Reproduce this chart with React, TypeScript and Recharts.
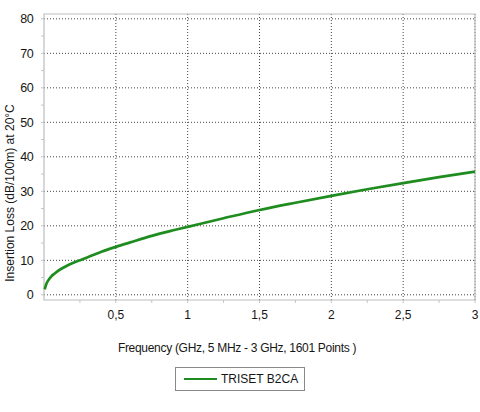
import React from "react";
import {
  LineChart,
  Line,
  XAxis,
  YAxis,
  CartesianGrid,
  ReferenceArea,
} from "recharts";

const frequencies = [0.005, 0.01, 0.02, 0.035, 0.05, 0.075, 0.1, 0.15, 0.2, 0.26, 0.3, 0.4, 0.5, 0.6, 0.75, 0.9, 1, 1.25, 1.5, 1.75, 2, 2.25, 2.5, 2.75, 3];
const lossValues = [1.6, 2.4, 3.5, 4.5, 5.3, 6.2, 7.0, 8.2, 9.2, 10.2, 10.85, 12.5, 13.9, 15.2, 17.1, 18.7, 19.7, 22.2, 24.6, 26.7, 28.7, 30.6, 32.4, 34.1, 35.7];
const xTicks = [0.25, 0.5, 0.75, 1, 1.25, 1.5, 1.75, 2, 2.25, 2.5, 2.75, 3];
const xLabelTicks = [0.5, 1, 1.5, 2, 2.5, 3];
const yTicks = [0, 5, 10, 15, 20, 25, 30, 35, 40, 45, 50, 55, 60, 65, 70, 75, 80];
const yLabelTicks = [0, 10, 20, 30, 40, 50, 60, 70, 80];
const seriesName = "TRISET B2CA";
const xTitle = "Frequency (GHz, 5 MHz - 3 GHz, 1601 Points )";
const yTitle = "Insertion Loss (dB/100m) at 20°C";

const data = frequencies.map((f, i) => ({ f, loss: lossValues[i] }));

const FONT = "'Liberation Sans', Arial, sans-serif";
const GREEN = "#1f8c1f";
const TEXT = "#161616";

const LegendBox = () => (
  <div
    style={{
      position: "absolute",
      left: 175,
      top: 367,
      width: 130,
      height: 24,
      border: "1px solid #888",
      display: "flex",
      alignItems: "center",
      boxSizing: "border-box",
      fontFamily: FONT,
      fontSize: 12,
      color: TEXT,
      whiteSpace: "nowrap",
    }}
  >
    <div style={{ width: 33, height: 2.5, background: GREEN, marginLeft: 8, marginRight: 4 }} />
    <span>{seriesName}</span>
  </div>
);

export default function App() {
  return (
    <div style={{ position: "absolute", left: 0, top: 0, width: 480, height: 412, background: "#fff" }}>
      <LineChart width={480} height={412} data={data} margin={{ top: 14, right: 5, bottom: 82, left: 0 }}>
        <CartesianGrid
          stroke="#444"
          strokeDasharray="1 2"
          strokeWidth={1}
          horizontalValues={yLabelTicks}
          verticalValues={xLabelTicks}
        />
        <ReferenceArea x1={0} x2={3} y1={-1.5} y2={81.4} fill="none" stroke="#bdbdbd" strokeWidth={1.2} ifOverflow="visible" />
        <XAxis
          dataKey="f"
          type="number"
          domain={[0, 3]}
          ticks={xTicks}
          interval={0}
          tickFormatter={(v: number) => (xLabelTicks.includes(v) ? String(v).replace(".", ",") : "")}
          axisLine={false}
          tickLine={{ stroke: "#c4c4c4" }}
          tickSize={3}
          tickMargin={7}
          tick={{ fill: TEXT, fontSize: 12, fontFamily: FONT }}
          height={30}
          label={{
            content: () => (
              <text x={237} y={351.5} textAnchor="middle" fill={TEXT} fontSize={12} fontFamily={FONT} letterSpacing={-0.3}>
                {xTitle}
              </text>
            ),
          }}
        />
        <YAxis
          type="number"
          domain={[-1.5, 81.4]}
          ticks={yTicks}
          interval={0}
          tickFormatter={(v: number) => (yLabelTicks.includes(v) ? String(v) : "")}
          axisLine={false}
          tickLine={{ stroke: "#c4c4c4" }}
          tickSize={3}
          tickMargin={8}
          width={44}
          tick={{ fill: TEXT, fontSize: 12.5, fontFamily: FONT, letterSpacing: -0.6 }}
          label={{
            content: () => (
              <text
                x={10}
                y={193}
                transform="rotate(-90 10 193)"
                textAnchor="middle"
                dominantBaseline="central"
                fill={TEXT}
                fontSize={12}
                fontFamily={FONT}
              >
                {yTitle}
              </text>
            ),
          }}
        />
        <Line
          type="monotone"
          dataKey="loss"
          name={seriesName}
          stroke={GREEN}
          strokeWidth={2.7}
          dot={false}
          isAnimationActive={false}
        />
      </LineChart>
      <LegendBox />
    </div>
  );
}
